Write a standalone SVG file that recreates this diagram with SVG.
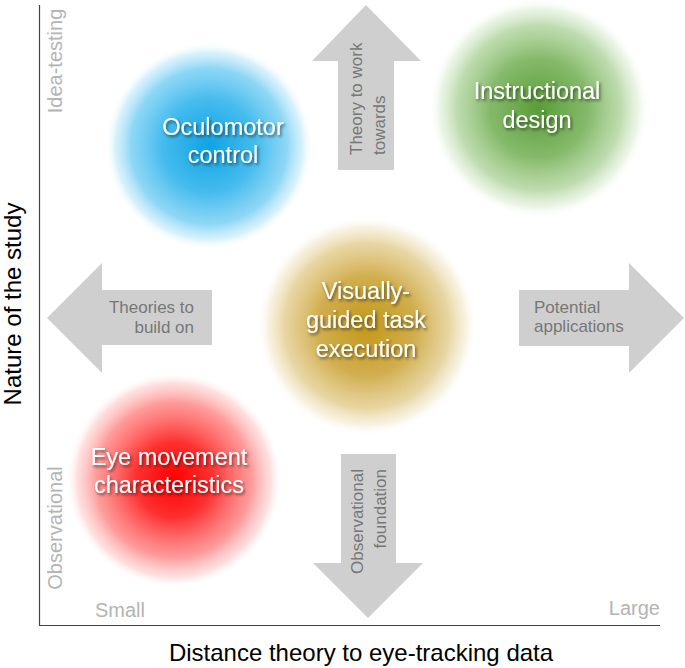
<svg xmlns="http://www.w3.org/2000/svg" width="685" height="668" viewBox="0 0 685 668">
<style>
.blob-label{font-family:"Liberation Sans",Arial,sans-serif;font-size:23.5px;fill:#ffffff;text-anchor:middle;filter:url(#shadow)}
.arrow{fill:#cfcfcf}
.arrow-label{font-family:"Liberation Sans",Arial,sans-serif;font-size:17px;fill:#777777}
.axis-label{font-family:"Liberation Sans",Arial,sans-serif;font-size:24px;fill:#000000;text-anchor:middle}
.tick-label{font-family:"Liberation Sans",Arial,sans-serif;font-size:20px;fill:#b4b4b4}
.axis{stroke:#444444;stroke-width:1.2;fill:none}
</style>
<defs>
<filter id="shadow" x="-20%" y="-40%" width="140%" height="180%">
<feDropShadow dx="1.5" dy="2" stdDeviation="1.6" flood-color="#000000" flood-opacity="0.55"/>
</filter>
<radialGradient id="gBlue">
<stop offset="0" stop-color="#0fa3e4" stop-opacity="1"/>
<stop offset="0.45" stop-color="#3bb8ed" stop-opacity="0.95"/>
<stop offset="0.75" stop-color="#72cdf3" stop-opacity="0.8"/>
<stop offset="0.9" stop-color="#a8e0f7" stop-opacity="0.45"/>
<stop offset="1" stop-color="#ffffff" stop-opacity="0"/>
</radialGradient>
<radialGradient id="gGreen">
<stop offset="0" stop-color="#5a9c38" stop-opacity="1"/>
<stop offset="0.45" stop-color="#74b056" stop-opacity="0.88"/>
<stop offset="0.75" stop-color="#9cc984" stop-opacity="0.65"/>
<stop offset="0.9" stop-color="#c4e0b4" stop-opacity="0.35"/>
<stop offset="1" stop-color="#ffffff" stop-opacity="0"/>
</radialGradient>
<radialGradient id="gGold">
<stop offset="0" stop-color="#c2981a" stop-opacity="1"/>
<stop offset="0.45" stop-color="#cca53a" stop-opacity="0.9"/>
<stop offset="0.75" stop-color="#dbbf70" stop-opacity="0.65"/>
<stop offset="0.9" stop-color="#ead9a8" stop-opacity="0.35"/>
<stop offset="1" stop-color="#ffffff" stop-opacity="0"/>
</radialGradient>
<radialGradient id="gRed">
<stop offset="0" stop-color="#ff0000" stop-opacity="1"/>
<stop offset="0.35" stop-color="#ff2525" stop-opacity="0.95"/>
<stop offset="0.72" stop-color="#ff7070" stop-opacity="0.7"/>
<stop offset="0.9" stop-color="#ffb0b0" stop-opacity="0.4"/>
<stop offset="1" stop-color="#ffffff" stop-opacity="0"/>
</radialGradient>
</defs>
<rect width="685" height="668" fill="#ffffff"/>

<g id="axes">
<line class="axis" x1="39.5" y1="5" x2="39.5" y2="625.5"/>
<line class="axis" x1="39" y1="625.5" x2="660" y2="625.5"/>
<text class="axis-label" transform="translate(21,304) rotate(-90)">Nature of the study</text>
<text class="axis-label" x="361" y="661">Distance theory to eye-tracking data</text>
<text class="tick-label" text-anchor="middle" transform="translate(62,61) rotate(-90)">Idea-testing</text>
<text class="tick-label" text-anchor="middle" transform="translate(62,528) rotate(-90)">Observational</text>
<text class="tick-label" x="95" y="617">Small</text>
<text class="tick-label" x="660" y="615" text-anchor="end">Large</text>
</g>

<g id="connectors">
<g id="arrow-up">
<polygon class="arrow" points="366,5 421,61 394,61 394,170 338,170 338,61 312,61"/>
<text class="arrow-label" transform="translate(362,155) rotate(-90)">Theory to work</text>
<text class="arrow-label" transform="translate(385,155) rotate(-90)">towards</text>
</g>
<g id="arrow-left">
<polygon class="arrow" points="47,318 102,263 102,290 212,290 212,345 102,345 102,373"/>
<text class="arrow-label" x="194" y="313" text-anchor="end">Theories to</text>
<text class="arrow-label" x="194" y="333" text-anchor="end">build on</text>
</g>
<g id="arrow-right">
<polygon class="arrow" points="519,290 629,290 629,263 684,318 629,373 629,346 519,346"/>
<text class="arrow-label" x="534" y="313">Potential</text>
<text class="arrow-label" x="534" y="332">applications</text>
</g>
<g id="arrow-down">
<polygon class="arrow" points="341,454 396,454 396,563 423,563 368,618 313,563 341,563"/>
<text class="arrow-label" text-anchor="end" transform="translate(363,469) rotate(-90)">Observational</text>
<text class="arrow-label" text-anchor="end" transform="translate(386,469) rotate(-90)">foundation</text>
</g>
</g>

<g id="node-oculomotor">
<circle cx="209" cy="146" r="104" fill="url(#gBlue)"/>
<text class="blob-label" x="223" y="135">Oculomotor</text>
<text class="blob-label" x="223" y="163">control</text>
</g>
<g id="node-instructional">
<circle cx="539" cy="108" r="110" fill="url(#gGreen)"/>
<text class="blob-label" x="537" y="99">Instructional</text>
<text class="blob-label" x="537" y="128">design</text>
</g>
<g id="node-visually-guided">
<circle cx="367" cy="326" r="110" fill="url(#gGold)"/>
<text class="blob-label" x="366" y="299">Visually-</text>
<text class="blob-label" x="366" y="328">guided task</text>
<text class="blob-label" x="366" y="357">execution</text>
</g>
<g id="node-eye-movement">
<circle cx="174" cy="480" r="108" fill="url(#gRed)"/>
<text class="blob-label" x="169" y="465">Eye movement</text>
<text class="blob-label" x="169" y="493">characteristics</text>
</g>
</svg>
